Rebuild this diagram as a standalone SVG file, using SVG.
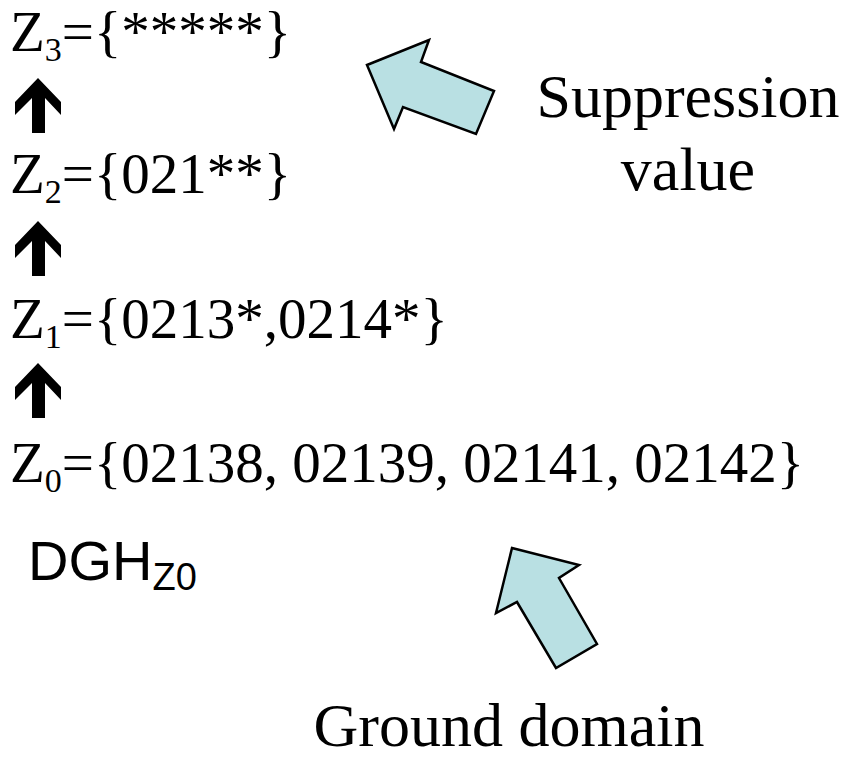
<svg xmlns="http://www.w3.org/2000/svg" width="852" height="759" viewBox="0 0 852 759">
<defs>
<style>
.t{font-family:"Liberation Serif","Times New Roman",serif;font-size:57px;fill:#000}
.sub{font-size:34px}
.lbl{font-family:"Liberation Serif","Times New Roman",serif;font-size:62px;fill:#000}
.dgh{font-family:"Liberation Sans",Arial,sans-serif;font-size:56px;fill:#000}
.up{fill:#000}
.big{fill:#b9e0e3;stroke:#000;stroke-width:2.5;stroke-linejoin:miter}
</style>
<path id="uparrow" d="M23,0 L0,24 L0,37 L17,20 L17,55 L30,55 L30,20 L46,37 L46,24 Z"/>
</defs>
<g id="z3"><text class="t" x="10" y="51">Z<tspan class="sub" dy="10">3</tspan><tspan dy="-10">={*****}</tspan></text></g>
<g id="z2"><text class="t" x="10" y="193">Z<tspan class="sub" dy="10">2</tspan><tspan dy="-10">={021**}</tspan></text></g>
<g id="z1"><text class="t" x="10" y="338">Z<tspan class="sub" dy="10">1</tspan><tspan dy="-10">={0213*,0214*}</tspan></text></g>
<g id="z0"><text class="t" x="10" y="482">Z<tspan class="sub" dy="10">0</tspan><tspan dy="-10">={02138, 02139, 02141, 02142}</tspan></text></g>
<g id="connectors">
<use href="#uparrow" class="up" x="15" y="78"/>
<use href="#uparrow" class="up" x="15" y="221"/>
<use href="#uparrow" class="up" x="15" y="363"/>
</g>
<g id="dgh"><text class="dgh" x="28" y="580">DGH<tspan font-size="38" dy="10">Z0</tspan></text></g>
<g id="suppression">
<polygon class="big" points="367,65 429,40 421,62 494,91 476,134 403,107 394,129"/>
<text class="lbl" text-anchor="middle" x="688" y="117">Suppression</text>
<text class="lbl" text-anchor="middle" x="688" y="190">value</text>
</g>
<g id="ground">
<polygon class="big" points="512,548 579,565 559,578 597,644 556,668 517,602 496,613"/>
<text class="lbl" text-anchor="middle" x="509" y="746">Ground domain</text>
</g>
</svg>
